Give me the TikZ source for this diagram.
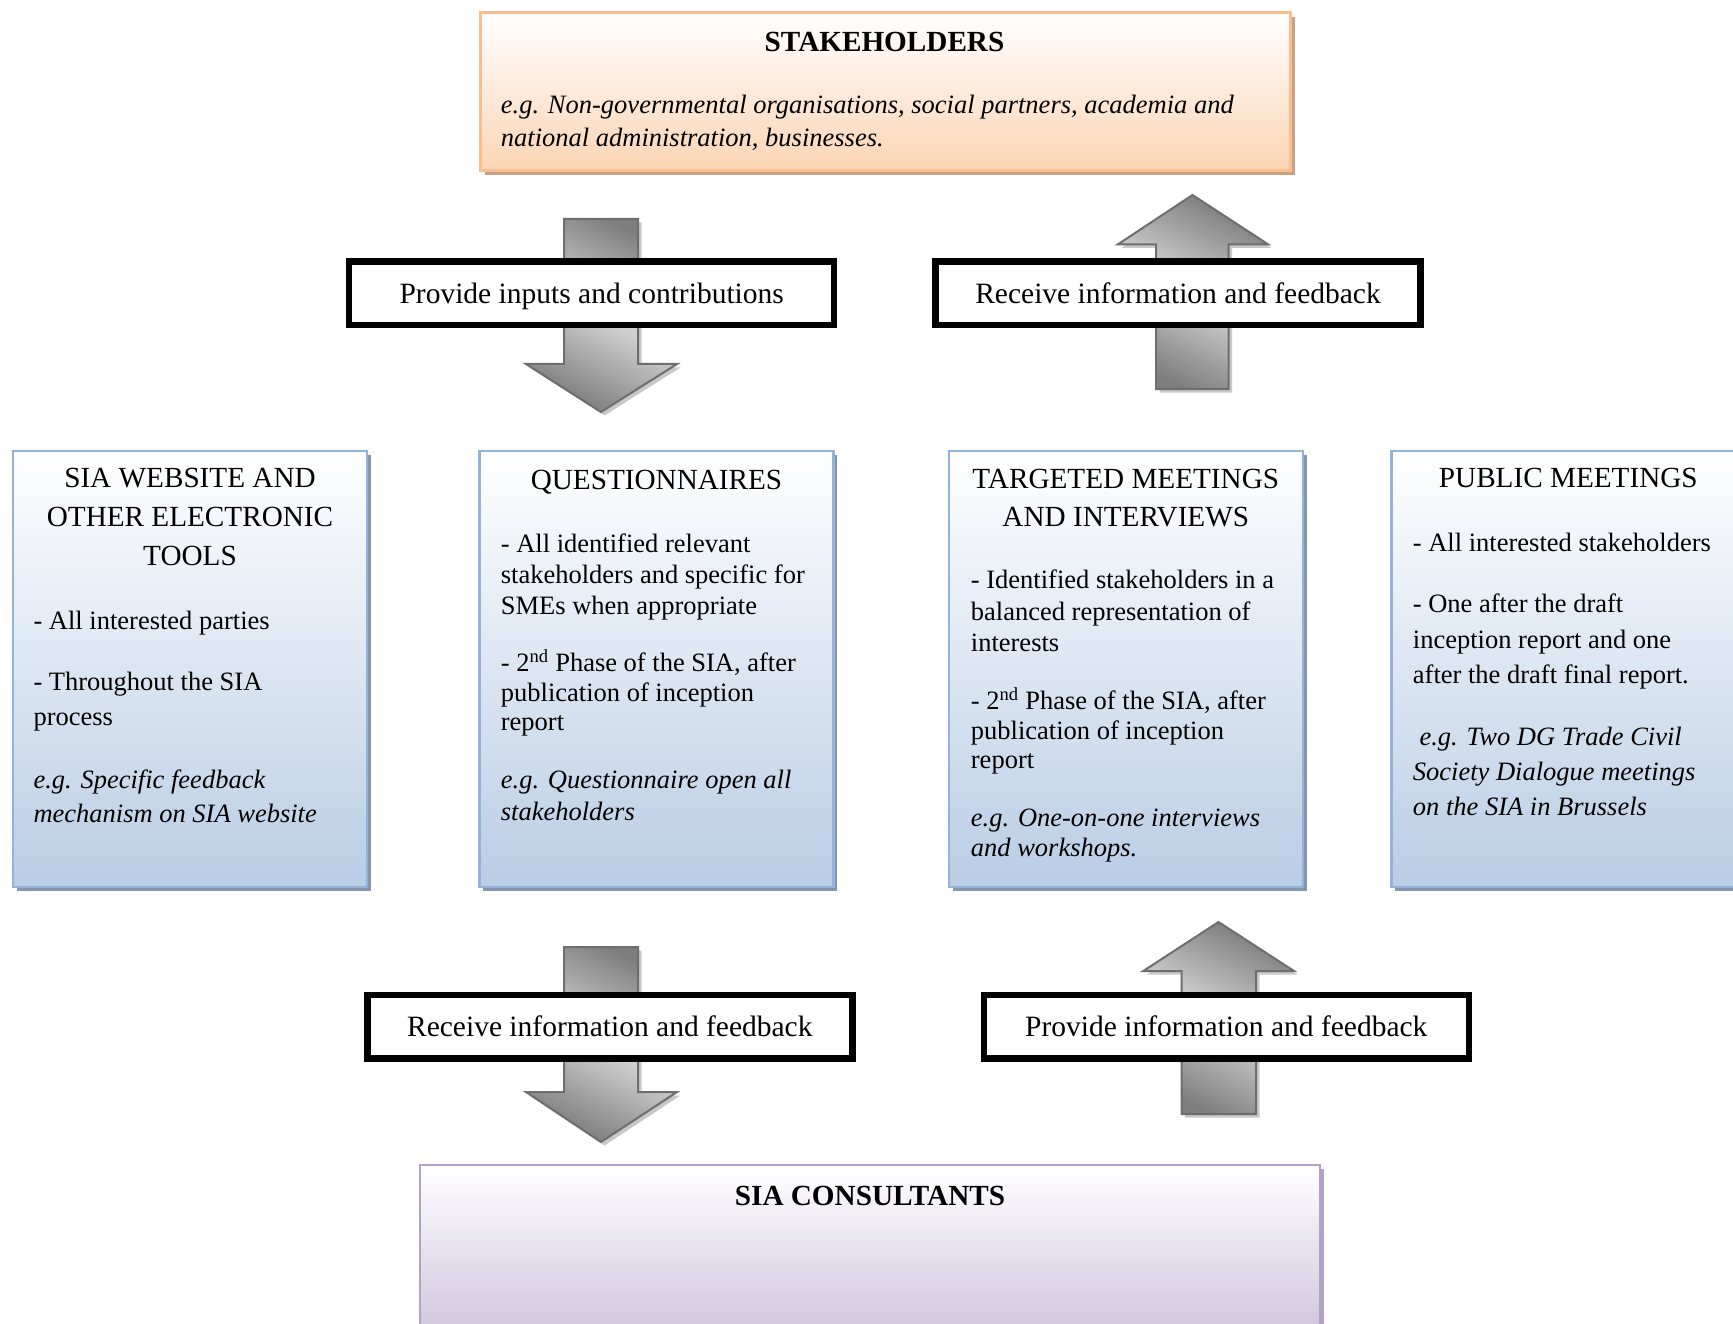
\documentclass[tikz,border=0pt]{standalone}
\usepackage{fontspec}
\setmainfont{Liberation Serif}
\usetikzlibrary{shadows}
\definecolor{orB}{HTML}{F9BE8F}
\definecolor{orF}{HTML}{FBD5B5}
\definecolor{orS}{HTML}{C9A285}
\definecolor{blB}{HTML}{95B3D7}
\definecolor{blF}{HTML}{B9CDE5}
\definecolor{blS}{HTML}{8496B0}
\definecolor{puB}{HTML}{B2A2C7}
\definecolor{puF}{HTML}{CCC1DA}
\definecolor{arB}{HTML}{6E6E6E}
\definecolor{arD}{HTML}{7E7E7E}
\definecolor{arL}{HTML}{D2D2D2}
\definecolor{arS}{HTML}{C8C8C8}
\begin{document}
\begin{tikzpicture}[x=1pt,y=-1pt,
  box/.style={rectangle, inner sep=0pt, outer sep=0pt},
  stakebox/.style={box, draw=orB, line width=2.5pt, top color=white, bottom color=orF,
    minimum width=810pt, minimum height=158pt,
    drop shadow={shadow xshift=4pt, shadow yshift=-4pt, fill=orS, opacity=1}},
  bluebox/.style={box, draw=blB, line width=2.5pt, top color=white, bottom color=blF,
    minimum width=354pt, minimum height=436pt,
    drop shadow={shadow xshift=4pt, shadow yshift=-4pt, fill=blS, opacity=1}},
  consbox/.style={box, draw=puB, line width=2.5pt, top color=white, bottom color=puF,
    minimum width=900pt, minimum height=180pt,
    drop shadow={shadow xshift=4pt, shadow yshift=-4pt, fill=puB, opacity=1}},
  lbl/.style={box, draw=black, line width=6.5pt, fill=white, minimum width=485pt,
    minimum height=63.5pt, text height=20pt, text depth=0pt,
    font=\fontsize{29.5}{34}\selectfont},
  blockarrow/.style={draw=arB, line width=2pt, line join=miter,
    left color=arD, right color=arD, middle color=arL, shading angle=-27},
  arrowshadow/.style={fill=arS, shift={(3.5,3.5)}},
  ttl/.style={anchor=base, inner sep=0pt, font=\fontsize{29.2}{35}\selectfont},
  bttl/.style={anchor=base, inner sep=0pt, font=\fontsize{29.2}{35}\selectfont\bfseries},
  txt/.style={anchor=base west, inner sep=0pt, font=\fontsize{26.5}{31}\selectfont},
  itxt/.style={anchor=base west, inner sep=0pt, font=\fontsize{26.5}{31}\selectfont\itshape}
]
\useasboundingbox (0,0) rectangle (1733,1324);
\clip (0,0) rectangle (1733,1324);
\fill[white] (0,0) rectangle (1733,1324);

% ---------- boxes ----------
\node[stakebox] (stake) at (885.5,91.7) {};
\node[bluebox] (web) at (190,669) {};
\node[bluebox] (quest) at (656.3,669) {};
\node[bluebox] (targ) at (1125.8,669) {};
\node[bluebox] (pub) at (1568.3,669) {};
\node[consbox] (cons) at (870.2,1255) {};

% ---------- block arrows ----------
% top left, down
\path[arrowshadow] (564,219) -- (638,219) -- (638,364) -- (677,364) -- (601,412) -- (526,364) -- (564,364) -- cycle;
\path[blockarrow] (564,219) -- (638,219) -- (638,364) -- (677,364) -- (601,412) -- (526,364) -- (564,364) -- cycle;
% top right, up
\path[arrowshadow] (1156,389) -- (1228.5,389) -- (1228.5,244.3) -- (1268,244.3) -- (1192.5,195) -- (1118,244.3) -- (1156,244.3) -- cycle;
\path[blockarrow] (1156,389) -- (1228.5,389) -- (1228.5,244.3) -- (1268,244.3) -- (1192.5,195) -- (1118,244.3) -- (1156,244.3) -- cycle;
% bottom left, down
\path[arrowshadow] (564,947) -- (638,947) -- (638,1092) -- (677,1092) -- (601,1142) -- (526,1092) -- (564,1092) -- cycle;
\path[blockarrow] (564,947) -- (638,947) -- (638,1092) -- (677,1092) -- (601,1142) -- (526,1092) -- (564,1092) -- cycle;
% bottom right, up
\path[arrowshadow] (1181.5,1114) -- (1256,1114) -- (1256,971) -- (1294,971) -- (1218.5,922) -- (1143.3,971) -- (1181.5,971) -- cycle;
\path[blockarrow] (1181.5,1114) -- (1256,1114) -- (1256,971) -- (1294,971) -- (1218.5,922) -- (1143.3,971) -- (1181.5,971) -- cycle;

% ---------- labels ----------
\node[lbl] (l1) at (591.7,293.3) {Provide inputs and contributions};
\node[lbl] (l2) at (1178,293.3) {Receive information and feedback};
\node[lbl] (l3) at (609.8,1026.7) {Receive information and feedback};
\node[lbl] (l4) at (1226.3,1026.7) {Provide information and feedback};

% ---------- stakeholders text ----------
\node[bttl] (st) at (884.5,51.7) {STAKEHOLDERS};
\node[itxt] (s1) at (500.7,113.3) {e.g. Non-governmental organisations, social partners, academia and};
\node[itxt] (s2) at (500.7,146.7) {national administration, businesses.};

% ---------- website box ----------
\node[ttl] (wt1) at (190,487.7) {SIA WEBSITE AND};
\node[ttl] (wt2) at (190,526.7) {OTHER ELECTRONIC};
\node[ttl] (wt3) at (190,565.7) {TOOLS};
\node[txt] (w1) at (33.3,629.3) {- All interested parties};
\node[txt] (w2) at (33.3,690.7) {- Throughout the SIA};
\node[txt] (w3) at (33.3,725) {process};
\node[itxt] (w4) at (33.3,788.3) {e.g. Specific feedback};
\node[itxt] (w5) at (33.3,822.7) {mechanism on SIA website};

% ---------- questionnaires box ----------
\node[ttl] (qt) at (656.5,489) {QUESTIONNAIRES};
\node[txt] (q1) at (500.7,552) {- All identified relevant};
\node[txt] (q2) at (500.7,583.3) {stakeholders and specific for};
\node[txt] (q3) at (500.7,614) {SMEs when appropriate};
\node[txt] (q4) at (500.7,671.7) {- 2\textsuperscript{nd} Phase of the SIA, after};
\node[txt] (q5) at (500.7,701) {publication of inception};
\node[txt] (q6) at (500.7,730.7) {report};
\node[itxt] (q7) at (500.7,788) {e.g. Questionnaire open all};
\node[itxt] (q8) at (500.7,820) {stakeholders};

% ---------- targeted meetings box ----------
\node[ttl] (tt1) at (1125.8,488.3) {TARGETED MEETINGS};
\node[ttl] (tt2) at (1125.8,526) {AND INTERVIEWS};
\node[txt] (t1) at (970.7,588.3) {- Identified stakeholders in a};
\node[txt] (t2) at (970.7,620) {balanced representation of};
\node[txt] (t3) at (970.7,651.7) {interests};
\node[txt] (t4) at (970.7,709.3) {- 2\textsuperscript{nd} Phase of the SIA, after};
\node[txt] (t5) at (970.7,739.3) {publication of inception};
\node[txt] (t6) at (970.7,768.3) {report};
\node[itxt] (t7) at (970.7,826.7) {e.g. One-on-one interviews};
\node[itxt] (t8) at (970.7,856.7) {and workshops.};

% ---------- public meetings box ----------
\node[ttl] (pt) at (1568.3,487.7) {PUBLIC MEETINGS};
\node[txt] (p1) at (1412.7,551.7) {- All interested stakeholders};
\node[txt] (p2) at (1412.7,612.7) {- One after the draft};
\node[txt] (p3) at (1412.7,648.3) {inception report and one};
\node[txt] (p4) at (1412.7,683.3) {after the draft final report.};
\node[itxt] (p5) at (1419.3,745) {e.g. Two DG Trade Civil};
\node[itxt] (p6) at (1412.7,780) {Society Dialogue meetings};
\node[itxt] (p7) at (1412.7,815) {on the SIA in Brussels};

% ---------- consultants ----------
\node[bttl] (ct) at (870,1205) {SIA CONSULTANTS};
\end{tikzpicture}
\end{document}
